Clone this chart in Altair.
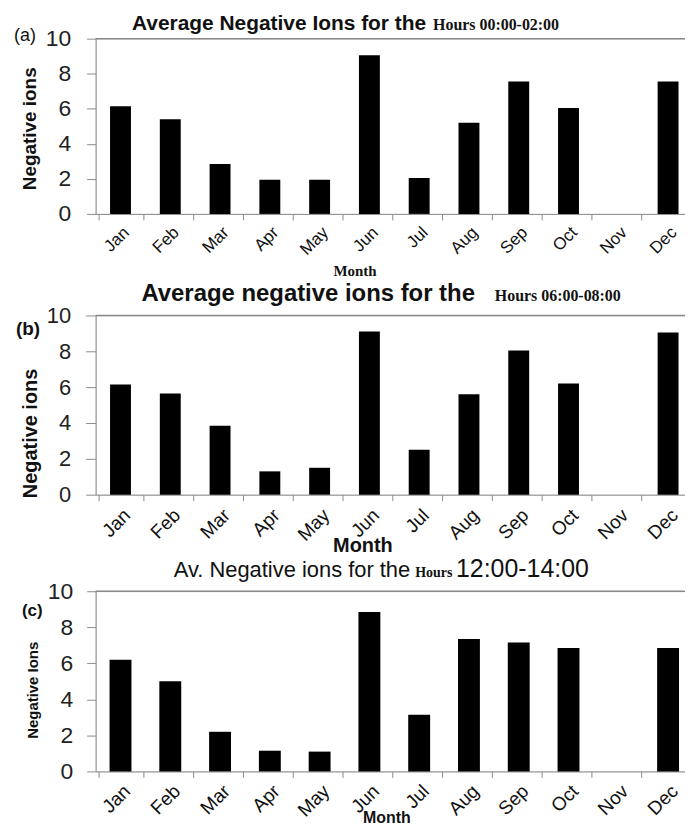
import altair as alt
import pandas as pd

months = ["Jan", "Feb", "Mar", "Apr", "May", "Jun", "Jul", "Aug", "Sep", "Oct", "Nov", "Dec"]
ions_a = [6.15, 5.4, 2.85, 1.95, 1.95, 9.05, 2.05, 5.2, 7.55, 6.05, None, 7.55]
ions_b = [6.15, 5.65, 3.85, 1.3, 1.5, 9.1, 2.5, 5.6, 8.05, 6.2, None, 9.05]
ions_c = [6.2, 5.0, 2.2, 1.15, 1.1, 8.85, 3.15, 7.35, 7.15, 6.85, None, 6.85]
y_ticks = [0, 2, 4, 6, 8, 10]

SANS = "Liberation Sans"
SERIF = "Liberation Serif"
GRAY = "#8a8a8a"

panels = [
    dict(vals=ions_a, label="(a)", label_w="normal", label_fs=18, label_x=-82, label_y=-3,
         ytitle="Negative ions", ytitle_fs=19, ytitle_x=-66, ytitle_y=90,
         ylab_fs=23, ylab_pad=16, ytick=9,
         xlab_fs=17, xlab_pad=4,
         month_font=SERIF, month_fs=15, month_x=260, month_y=57,
         w=600, h=176, bar=21,
         texts=[("Average Negative Ions for the", SANS, "bold", 21, "right", 332, -9),
                ("Hours 00:00-02:00", SERIF, "bold", 16, "left", 339, -9)]),
    dict(vals=ions_b, label="(b)", label_w="bold", label_fs=19, label_x=-80, label_y=14,
         ytitle="Negative ions", ytitle_fs=20, ytitle_x=-65, ytitle_y=118,
         ylab_fs=22, ylab_pad=15, ytick=10,
         xlab_fs=19, xlab_pad=5,
         month_font=SANS, month_fs=20, month_x=268, month_y=51,
         w=600, h=180, bar=21,
         texts=[("Average negative ions for the", SANS, "bold", 24, "right", 381, -15),
                ("Hours 06:00-08:00", SERIF, "bold", 16, "left", 401, -15)]),
    dict(vals=ions_c, label="(c)", label_w="bold", label_fs=17, label_x=-74, label_y=20,
         ytitle="Negative Ions", ytitle_fs=15, ytitle_x=-63, ytitle_y=99,
         ylab_fs=23, ylab_pad=14, ytick=9,
         xlab_fs=19, xlab_pad=4,
         month_font=SANS, month_fs=16, month_x=292, month_y=46,
         w=600, h=181, bar=22,
         texts=[("Av. Negative ions for the", SANS, "normal", 22, "right", 316, -14),
                ("Hours", SERIF, "bold", 14, "left", 321, -14),
                ("12:00-14:00", SANS, "normal", 25, "left", 362, -14)]),
]


def make_panel(p):
    df = pd.DataFrame({"Month": months, "ions": p["vals"]})
    bars = alt.Chart(df).mark_bar(color="black", size=p["bar"]).encode(
        x=alt.X("Month:N", sort=months, scale=alt.Scale(domain=months),
                axis=alt.Axis(title="Month", labelAngle=-45, labelAlign="right",
                              labelBaseline="top", labelPadding=p["xlab_pad"],
                              labelFont=SANS, labelFontSize=p["xlab_fs"], labelColor="#111",
                              labelOverlap=False, tickBand="extent", tickSize=6,
                              tickColor=GRAY, domainColor=GRAY, grid=False,
                              titleFont=p["month_font"], titleFontSize=p["month_fs"],
                              titleFontWeight="bold", titleColor="#111",
                              titleX=p["month_x"], titleY=p["month_y"],
                              titleAlign="center", titleBaseline="middle")),
        y=alt.Y("ions:Q", scale=alt.Scale(domain=[0, 10]),
                axis=alt.Axis(title=p["ytitle"], values=y_ticks,
                              tickSize=p["ytick"],
                              labelPadding=p["ylab_pad"], labelFont=SANS,
                              labelFontSize=p["ylab_fs"], labelColor="#222",
                              labelFlush=False, labelOverlap=False,
                              tickColor=GRAY, domainColor=GRAY, grid=False,
                              titleFont=SANS, titleFontSize=p["ytitle_fs"],
                              titleFontWeight="bold", titleColor="#111",
                              titleAngle=-90, titleX=p["ytitle_x"], titleY=p["ytitle_y"],
                              titleAlign="center", titleBaseline="middle")),
    )
    top = alt.Chart(alt.Data(values=[{"v": 10}])).mark_rule(color=GRAY, strokeWidth=1.5).encode(
        y=alt.Y("v:Q", axis=None))
    layers = [bars, top]
    one = alt.Data(values=[{"k": 1}])
    layers.append(
        alt.Chart(one).mark_text(text=p["label"], align="left", baseline="middle",
                                 font=SANS, fontSize=p["label_fs"], fontWeight=p["label_w"],
                                 color="#111").encode(x=alt.value(p["label_x"]),
                                                      y=alt.value(p["label_y"])))
    for txt, font, weight, fs, align, x, y in p["texts"]:
        layers.append(
            alt.Chart(one).mark_text(text=txt, align=align, baseline="alphabetic",
                                     font=font, fontSize=fs, fontWeight=weight,
                                     color="#111").encode(x=alt.value(x), y=alt.value(y)))
    return (alt.layer(*layers)
            .resolve_axis(y="independent")
            .properties(width=p["w"], height=p["h"]))


pa, pb, pc = [make_panel(p) for p in panels]
chart = alt.vconcat(pa, alt.vconcat(pb, pc, spacing=0), spacing=1).properties(
    padding={"left": 5, "top": 2, "right": -10, "bottom": 0}
).configure_view(stroke=None).configure(background="white")

chart.save("out.html", embed_options={"renderer": "svg", "actions": False})
